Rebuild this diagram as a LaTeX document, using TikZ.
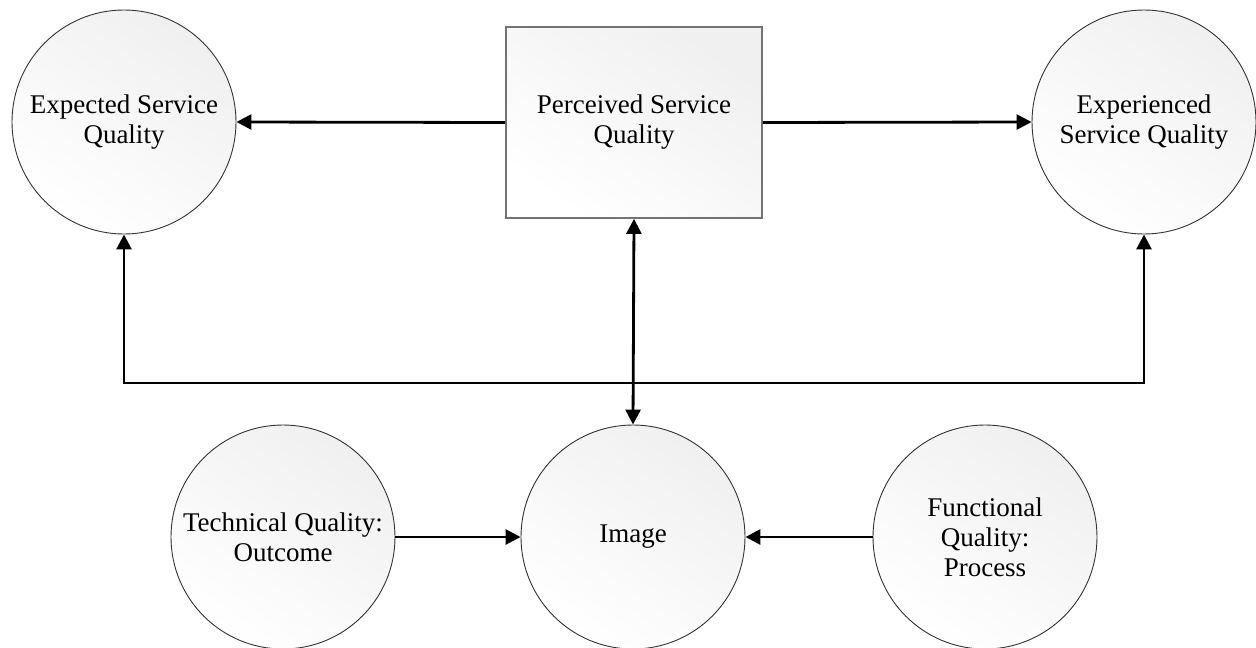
\documentclass[tikz,border=0pt]{standalone}
\usepackage{fontspec}
\setmainfont{Liberation Serif}
\usetikzlibrary{arrows.meta}
\tikzset{
  circ/.style={circle, draw=black!80, line width=0.9pt, minimum size=224pt, inner sep=0pt,
    align=center, top color=black!6, bottom color=white, shading angle=-35,
    font=\fontsize{27}{30}\selectfont},
  rbox/.style={rectangle, draw=black!55, line width=1.8pt, minimum width=256pt, minimum height=191pt,
    inner sep=0pt, align=center, top color=black!6, bottom color=white, shading angle=-35,
    font=\fontsize{27}{30}\selectfont},
  tip/.style={Triangle[length=15pt,width=15pt]},
  conn/.style={line width=2.8pt, black, -{Triangle[length=15pt,width=15pt]}},
  conn2/.style={line width=2.8pt, black, {Triangle[length=15pt,width=15pt]}-{Triangle[length=15pt,width=15pt]}}
}
\begin{document}
\begin{tikzpicture}[x=1pt,y=-1pt]
\useasboundingbox (0,0) rectangle (1256,648);
\fill[white] (0,0) rectangle (1256,648);
\node[circ] (exp) at (124,122) {Expected Service\\Quality};
\node[rbox] (per) at (634,122.5) {Perceived Service\\Quality};
\node[circ] (expd) at (1144,122) {Experienced\\Service Quality};
\node[circ] (img) at (633,537) {Image};
\node[circ] (tech) at (283,537) {Technical Quality:\\Outcome};
\node[circ] (func) at (985,537) {Functional\\Quality:\\Process};
\coordinate (jl) at (124,383);
\coordinate (jr) at (1144,383);
\draw[conn] (per.west) -- (exp.east);
\draw[conn] (per.east) -- (expd.west);
\draw[conn2] (per.south) -- (img.north);
\draw[conn2] (exp.south) -- (jl) -- (jr) -- (expd.south);
\draw[conn] (tech.east) -- (img.west);
\draw[conn] (func.west) -- (img.east);
\end{tikzpicture}
\end{document}
